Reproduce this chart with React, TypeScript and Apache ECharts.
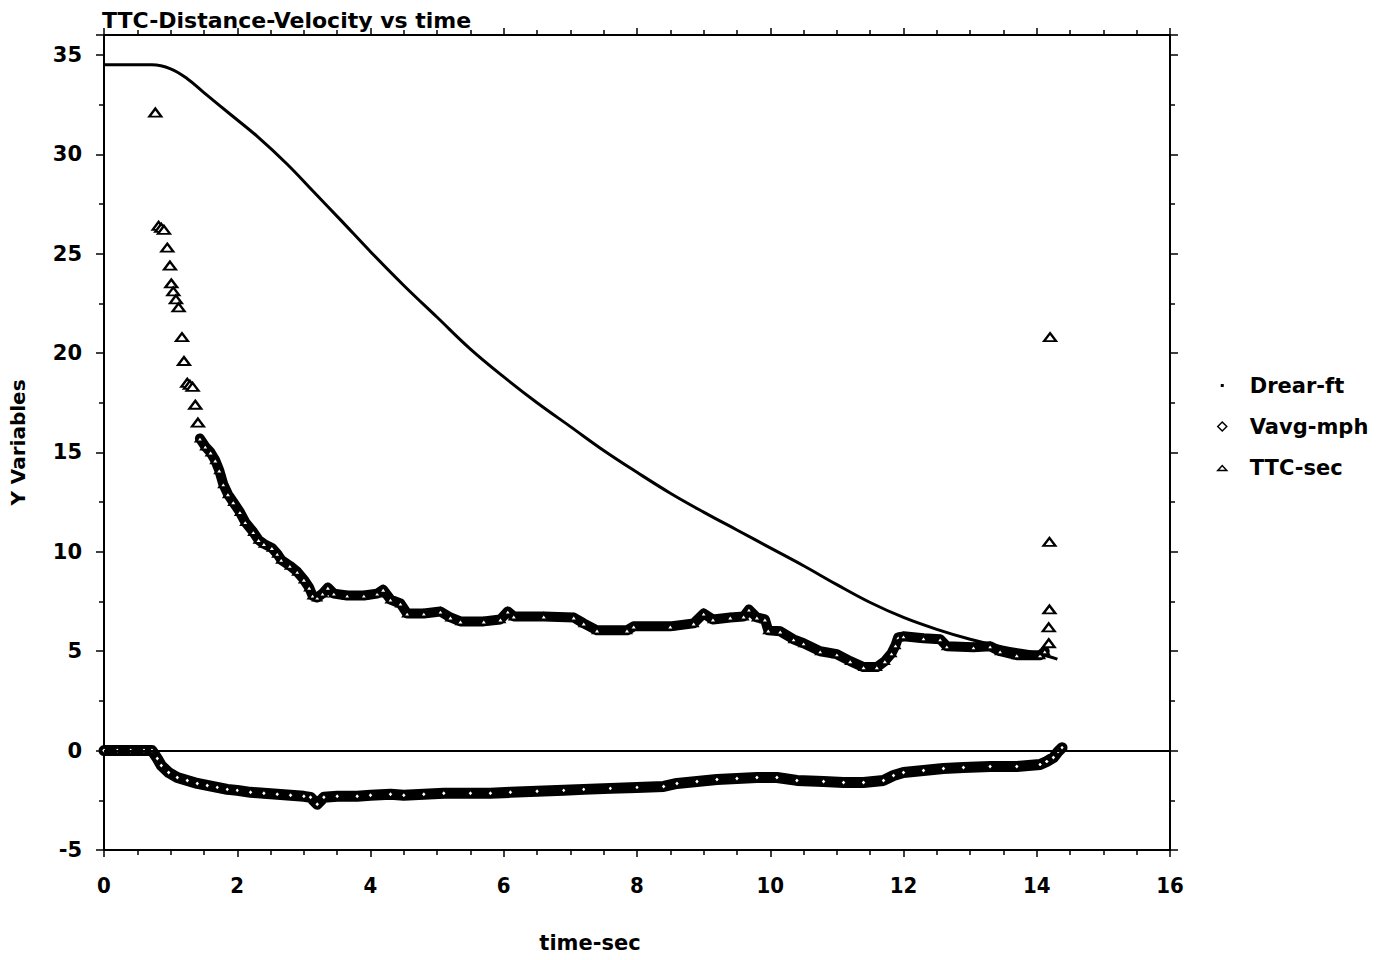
import React, { useEffect, useRef } from 'react';
import * as echarts from 'echarts';

const TITLE = 'TTC-Distance-Velocity vs time';
const X_NAME = 'time-sec';
const Y_NAME = 'Y Variables';
const SERIES_NAMES = ['Drear-ft', 'Vavg-mph', 'TTC-sec'];

// [time-sec, value]
const drearFt: [number, number][] = [
  [0, 34.5], [0.72, 34.5], [1.0, 34.3], [1.25, 33.8], [1.5, 33.1], [1.9, 32.0],
  [2.3, 30.9], [2.75, 29.5], [3.15, 28.1], [3.55, 26.7], [4.0, 25.1], [4.5, 23.4],
  [5.0, 21.8], [5.5, 20.2], [6.0, 18.8], [6.5, 17.5], [7.0, 16.3], [7.5, 15.1],
  [8.0, 14.0], [8.5, 12.95], [9.0, 12.0], [9.5, 11.1], [10.0, 10.2], [10.5, 9.3],
  [11.0, 8.35], [11.5, 7.45], [12.0, 6.7], [12.5, 6.1], [13.0, 5.6], [13.5, 5.2],
  [14.0, 4.9], [14.31, 4.6],
];

const vavgMph: [number, number][] = [
  [0.0, 0.0], [0.2, 0.0], [0.4, 0.0], [0.6, 0.0], [0.72, 0.0], [0.8, -0.4], [0.86, -0.75],
  [0.97, -1.1], [1.1, -1.35], [1.25, -1.5], [1.4, -1.65], [1.55, -1.75], [1.7, -1.85],
  [1.85, -1.95], [2.0, -2.0], [2.2, -2.1], [2.4, -2.15], [2.6, -2.2], [2.8, -2.25],
  [3.0, -2.3], [3.1, -2.35], [3.2, -2.7], [3.3, -2.35], [3.5, -2.3], [3.8, -2.3],
  [4.0, -2.25], [4.3, -2.2], [4.5, -2.25], [4.8, -2.2], [5.1, -2.15], [5.5, -2.15],
  [5.8, -2.15], [6.1, -2.1], [6.5, -2.05], [6.9, -2.0], [7.2, -1.95], [7.6, -1.9],
  [8.0, -1.85], [8.4, -1.8], [8.6, -1.65], [8.9, -1.55], [9.2, -1.45], [9.5, -1.4],
  [9.8, -1.35], [10.1, -1.35], [10.4, -1.5], [10.8, -1.55], [11.1, -1.6], [11.4, -1.6],
  [11.7, -1.5], [11.85, -1.25], [12.0, -1.1], [12.3, -1.0], [12.6, -0.9], [12.9, -0.85],
  [13.3, -0.8], [13.7, -0.8], [14.05, -0.7], [14.15, -0.55], [14.25, -0.35],
  [14.32, -0.05], [14.38, 0.15],
];

// dense, continuous part of TTC-sec
const ttcBand: [number, number][] = [
  [1.44, 15.7], [1.52, 15.3], [1.6, 15.0], [1.67, 14.6], [1.73, 14.1], [1.79, 13.4],
  [1.86, 12.9], [1.94, 12.5], [2.04, 12.0], [2.12, 11.5], [2.24, 11.0], [2.32, 10.6],
  [2.4, 10.4], [2.52, 10.2], [2.6, 9.9], [2.66, 9.6], [2.79, 9.3], [2.9, 9.0],
  [3.0, 8.6], [3.08, 8.2], [3.13, 7.8], [3.2, 7.7], [3.28, 7.9], [3.36, 8.2],
  [3.45, 7.9], [3.65, 7.8], [3.9, 7.8], [4.1, 7.9], [4.19, 8.1], [4.3, 7.6],
  [4.45, 7.4], [4.55, 6.9], [4.8, 6.9], [5.05, 7.0], [5.2, 6.7], [5.35, 6.5],
  [5.7, 6.5], [5.95, 6.6], [6.06, 7.0], [6.15, 6.75], [6.6, 6.75], [7.05, 6.7],
  [7.2, 6.4], [7.4, 6.05], [7.85, 6.05], [7.95, 6.25], [8.5, 6.25], [8.85, 6.4],
  [9.0, 6.9], [9.14, 6.6], [9.4, 6.7], [9.6, 6.75], [9.68, 7.1], [9.8, 6.7],
  [9.92, 6.6], [9.97, 6.05], [10.15, 6.0], [10.35, 5.6], [10.5, 5.4], [10.75, 5.0],
  [11.0, 4.85], [11.2, 4.5], [11.4, 4.2], [11.6, 4.2], [11.72, 4.5], [11.82, 4.9],
  [11.88, 5.3], [11.92, 5.7], [12.0, 5.75], [12.3, 5.65], [12.55, 5.6], [12.65, 5.25],
  [13.05, 5.2], [13.3, 5.25], [13.45, 5.0], [13.7, 4.8], [14.05, 4.8], [14.12, 5.0],
];

// separate TTC-sec points
const ttcPoints: [number, number][] = [
  [0.77, 32.1], [0.82, 26.4], [0.86, 26.3], [0.9, 26.2], [0.95, 25.3], [0.99, 24.4],
  [1.01, 23.5], [1.04, 23.1], [1.08, 22.7], [1.12, 22.3], [1.17, 20.8], [1.2, 19.6],
  [1.25, 18.5], [1.29, 18.4], [1.33, 18.3], [1.37, 17.4], [1.41, 16.5],
  [14.18, 5.4], [14.18, 6.2], [14.19, 7.1], [14.19, 10.5], [14.2, 20.8],
];

const FONT = '"DejaVu Sans", sans-serif';
const COND = '"DejaVu Sans Condensed", "DejaVu Sans", sans-serif';

const ICON_DOT = 'path://M0,0M28,12M4,4.5h3v3h-3z';
const ICON_DIAMOND = 'path://M0,0M28,12M5.5,1.5L10,6L5.5,10.5L1,6Z';
const ICON_TRI = 'path://M0,0M28,12M1,9L5.5,4L10,9Z';

export default function App() {
  const ref = useRef<HTMLDivElement>(null);

  useEffect(() => {
    if (!ref.current) return;
    const chart = echarts.init(ref.current, null, { renderer: 'svg' });
    const black = { color: '#000', width: 2 };
    const tickStyle = { color: '#000', width: 1.5 };

    const xCommon = {
      type: 'value' as const,
      min: 0,
      max: 16,
      interval: 2,
      splitLine: { show: false },
      axisLine: { show: true, onZero: false, lineStyle: black },
      axisTick: { show: true, length: 7, lineStyle: tickStyle },
      minorTick: { show: true, splitNumber: 4, length: 5, lineStyle: tickStyle },
    };
    const yCommon = {
      type: 'value' as const,
      min: -5,
      max: 36,
      interval: 5,
      splitLine: { show: false },
      axisLine: { show: true, onZero: false, lineStyle: black },
      axisTick: { show: true, length: 8, lineStyle: tickStyle },
      minorTick: { show: true, splitNumber: 2, length: 5, lineStyle: tickStyle },
    };

    chart.setOption({
      animation: false,
      backgroundColor: '#fff',
      title: {
        text: TITLE,
        left: 97,
        top: 4,
        textStyle: { fontFamily: FONT, fontSize: 22, fontWeight: 'bold', color: '#000' },
      },
      legend: {
        orient: 'vertical',
        left: 1216,
        top: 375,
        padding: 0,
        itemWidth: 28,
        itemHeight: 12,
        itemGap: 20,
        textStyle: { fontFamily: FONT, fontSize: 21, fontWeight: 'bold', color: '#000' },
        data: [
          { name: SERIES_NAMES[0], icon: ICON_DOT, itemStyle: { color: '#000', borderWidth: 0 } },
          { name: SERIES_NAMES[1], icon: ICON_DIAMOND, itemStyle: { color: '#fff', borderColor: '#000', borderWidth: 1.5 } },
          { name: SERIES_NAMES[2], icon: ICON_TRI, itemStyle: { color: '#fff', borderColor: '#000', borderWidth: 1.5 } },
        ],
      },
      grid: { left: 104, right: 228, top: 35, bottom: 110 },
      xAxis: [
        {
          ...xCommon,
          position: 'bottom',
          name: X_NAME,
          nameLocation: 'middle',
          nameGap: 82,
          nameTextStyle: { fontFamily: FONT, fontSize: 21, fontWeight: 'bold', color: '#000', padding: [0, 94, 0, 0] },
          axisLabel: { margin: 24, fontFamily: COND, fontSize: 22, fontWeight: 'bold', color: '#000' },
        },
        { ...xCommon, position: 'top', axisLabel: { show: false } },
      ],
      yAxis: [
        {
          ...yCommon,
          position: 'left',
          name: Y_NAME,
          nameLocation: 'middle',
          nameRotate: 90,
          nameGap: 76,
          nameTextStyle: { fontFamily: FONT, fontSize: 20, fontWeight: 'bold', color: '#000' },
          axisLabel: { margin: 22, showMaxLabel: false, fontFamily: FONT, fontSize: 21, fontWeight: 'bold', color: '#000' },
        },
        { ...yCommon, position: 'right', axisLabel: { show: false } },
      ],
      series: [
        {
          name: SERIES_NAMES[0],
          type: 'line',
          data: drearFt,
          symbol: 'none',
          smooth: 0.4,
          lineStyle: { color: '#000', width: 3 },
          itemStyle: { color: '#000' },
          z: 3,
          markLine: {
            silent: true,
            symbol: 'none',
            label: { show: false },
            lineStyle: { color: '#000', width: 2, type: 'solid' },
            data: [{ yAxis: 0 }],
          },
        },
        {
          name: SERIES_NAMES[1],
          type: 'line',
          data: vavgMph,
          symbol: 'diamond',
          symbolSize: [6, 7],
          showSymbol: true,
          showAllSymbol: true,
          itemStyle: { color: '#fff', borderColor: '#000', borderWidth: 2 },
          lineStyle: { color: '#000', width: 11, cap: 'round', join: 'round' },
          z: 4,
        },
        {
          name: SERIES_NAMES[2],
          type: 'line',
          data: ttcBand,
          symbol: 'triangle',
          symbolSize: [8, 6],
          showSymbol: true,
          showAllSymbol: true,
          itemStyle: { color: '#fff', borderColor: '#000', borderWidth: 2.2 },
          lineStyle: { color: '#000', width: 10, cap: 'round', join: 'round' },
          z: 5,
        },
        {
          name: SERIES_NAMES[2],
          type: 'scatter',
          data: ttcPoints,
          symbol: 'triangle',
          symbolSize: [12, 8],
          itemStyle: { color: '#fff', borderColor: '#000', borderWidth: 2.2, opacity: 1 },
          z: 6,
        },
      ],
    });

    return () => chart.dispose();
  }, []);

  return (
    <div
      ref={ref}
      style={{ position: 'fixed', left: 0, top: 0, width: 1398, height: 960, background: '#fff' }}
    />
  );
}
